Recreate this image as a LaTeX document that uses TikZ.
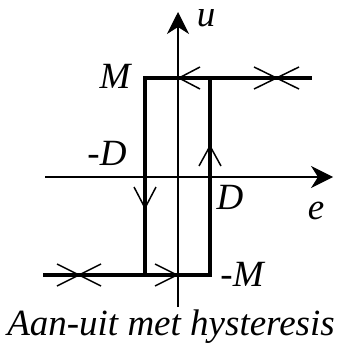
\documentclass[tikz,border=0pt]{standalone}
\usepackage{fontspec}
\setmainfont{Liberation Serif}
\usetikzlibrary{arrows.meta}

\begin{document}
\begin{tikzpicture}[
  x=1pt,y=-1pt,
  every node/.style={font=\fontsize{37}{42}\selectfont\itshape,inner sep=0pt},
  axis/.style={line width=1.3pt,-{Stealth[length=22pt,width=22pt,inset=7pt]}},
  curve/.style={line width=3.8pt,line cap=rect},
  barb/.style={line width=1.5pt}
]
\useasboundingbox (0,0) rectangle (337,350);
\coordinate (eL) at (45,177);
\coordinate (eR) at (333,177);
\coordinate (uB) at (178,307);
\coordinate (uT) at (178,12);
\coordinate (tl) at (145,78);
\coordinate (tr) at (310,78);
\coordinate (bl) at (45,275);
\coordinate (br) at (210,275);
\coordinate (ltop) at (145,78);
\coordinate (lbot) at (145,275);
\coordinate (rtop) at (210,78);
\coordinate (rbot) at (210,275);
\draw[axis] (eL) -- (eR);
\draw[axis] (uB) -- (uT);
\draw[curve] (tl) -- (tr);
\draw[curve] (bl) -- (br);
\draw[curve] (ltop) -- (lbot);
\draw[curve] (rtop) -- (rbot);
\draw[barb] (200,67) -- (179,78) -- (200,89);
\draw[barb] (155,264) -- (177,275) -- (155,286);
\draw[barb] (134,187) -- (145,208) -- (156,187);
\draw[barb] (199,166) -- (210,146) -- (221,166);
\draw[barb] (254,67) -- (299,89) (254,89) -- (299,67);
\draw[barb] (57,264) -- (101,286) (57,286) -- (101,264);
\node (u) at (206,18) {u};
\node (M) at (115,76) {M};
\node (mD) at (107,153) {-D};
\node (D) at (230,197) {D};
\node (e) at (316,211) {e};
\node (mM) at (242,274) {-M};
\node (cap) at (171,327) {Aan-uit met hysteresis};
\end{tikzpicture}
\end{document}
